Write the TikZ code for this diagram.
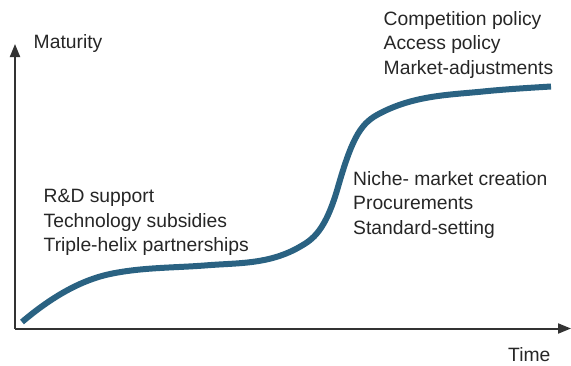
\documentclass[tikz,border=0pt]{standalone}
\usepackage{fontspec}
\setmainfont{Liberation Sans}
\usetikzlibrary{arrows.meta}
\definecolor{curveblue}{HTML}{2A6282}
\definecolor{axisgray}{HTML}{333333}
\tikzset{
  axis/.style={draw=axisgray, line width=2pt, -{Triangle[length=13pt,width=10pt]}},
  lbl/.style={anchor=base west, inner sep=0pt, font=\fontsize{19.3}{24.6}\selectfont, text=black!85},
  scurve/.style={draw=curveblue, line width=6pt}
}
\begin{document}
\begin{tikzpicture}[x=1pt,y=-1pt]
\useasboundingbox (0,0) rectangle (571,365);
\coordinate (o) at (15,328.5);
\coordinate (ytop) at (15,44);
\coordinate (xend) at (571,328.5);
\draw[axis] (o) -- (ytop);
\draw[axis] (o) -- (xend);
\node[lbl] (mat) at (33.5,48.5) {Maturity};
\node[lbl] (time) at (508,361) {Time};
\draw[scurve] (22,322)
  .. controls (51.3,297.1) and (80.7,280.2) .. (110,274)
  .. controls (142.3,267.2) and (174.7,267.9) .. (207,265.3)
  .. controls (237.9,262.8) and (269.1,264.6) .. (300,246.7)
  .. controls (312.7,239.4) and (325.3,231.3) .. (338,187)
  .. controls (353,134.5) and (362,122.5) .. (380,113.3)
  .. controls (414.3,95.4) and (448.7,94.9) .. (483,91.5)
  .. controls (505.7,89.2) and (528.3,87.9) .. (551,86.5);
\node[lbl] (l1) at (43.5,202.3) {R\&D support};
\node[lbl] (l2) at (43.5,227) {Technology subsidies};
\node[lbl] (l3) at (43.5,251.6) {Triple-helix partnerships};
\node[lbl] (m1) at (353,185) {Niche- market creation};
\node[lbl] (m2) at (353,209.5) {Procurements};
\node[lbl] (m3) at (353,234) {Standard-setting};
\node[lbl] (t1) at (383.5,25) {Competition policy};
\node[lbl] (t2) at (383.5,49.5) {Access policy};
\node[lbl] (t3) at (383.5,74) {Market-adjustments};
\end{tikzpicture}
\end{document}
